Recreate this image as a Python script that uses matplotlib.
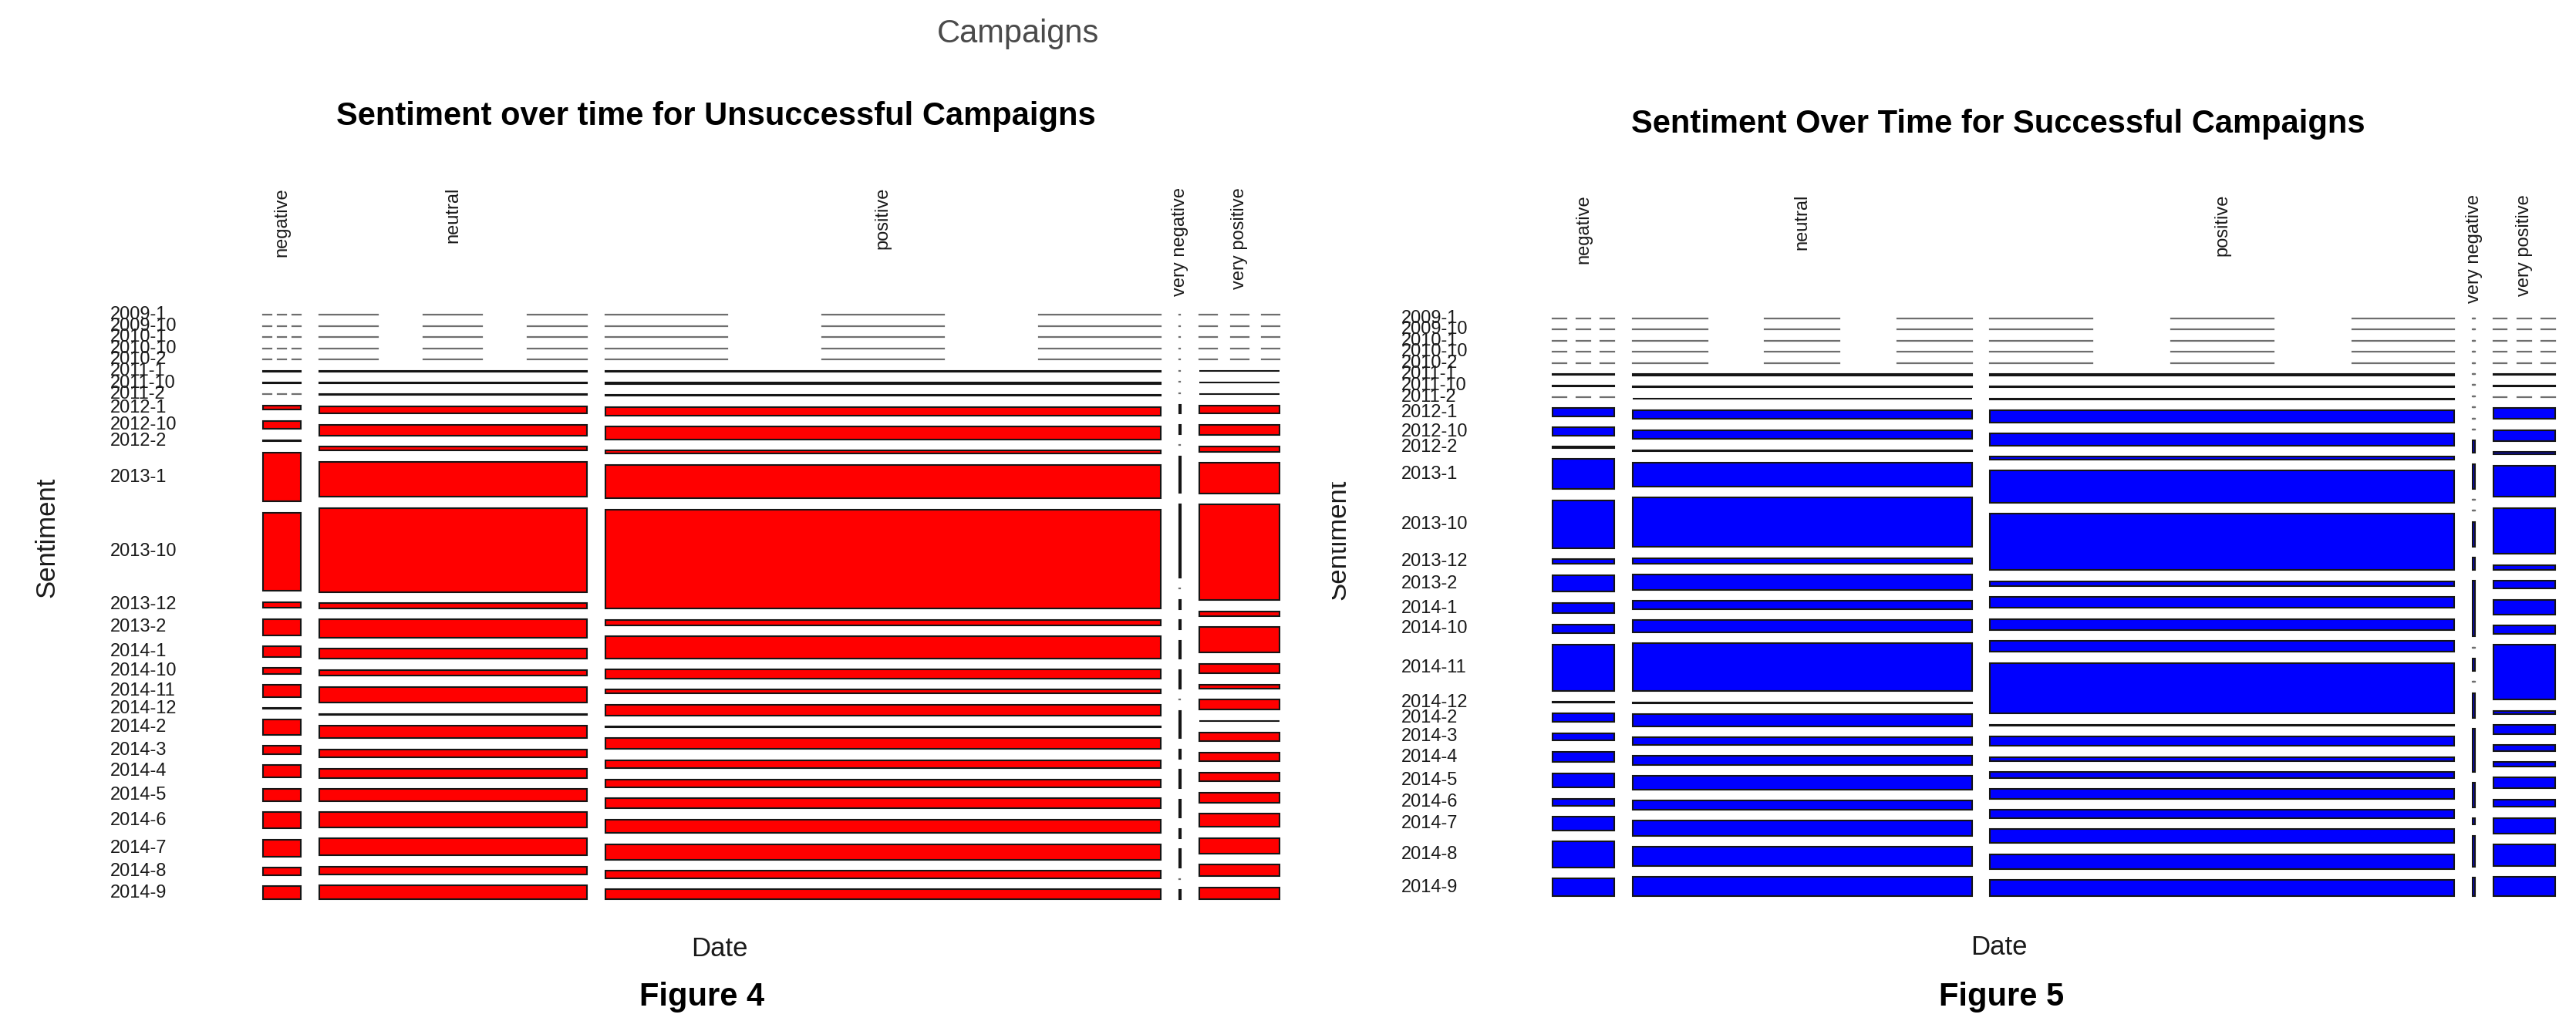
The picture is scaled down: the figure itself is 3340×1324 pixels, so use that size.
import numpy as np
import matplotlib
matplotlib.use("Agg")
import matplotlib.pyplot as plt
from matplotlib.patches import Rectangle
from matplotlib.collections import LineCollection
from matplotlib.transforms import blended_transform_factory, Bbox, TransformedBbox

plt.rcParams['font.family'] = ['Liberation Sans', 'DejaVu Sans']

# ---------------------------------------------------------------- data
dates = ["2009-1", "2009-10", "2010-1", "2010-10", "2010-2", "2011-1", "2011-10",
         "2011-2", "2012-1", "2012-10", "2012-2", "2013-1", "2013-10", "2013-12",
         "2013-2", "2014-1", "2014-10", "2014-11", "2014-12", "2014-2", "2014-3",
         "2014-4", "2014-5", "2014-6", "2014-7", "2014-8", "2014-9"]
sentiments = ["negative", "neutral", "positive", "very negative", "very positive"]

# tweet counts per date, one list per sentiment -- unsuccessful campaigns
unsucc_negative = [0, 0, 0, 0, 0, 2, 1, 0, 11, 22, 3, 134, 214, 16, 44,
                   29, 15, 33, 1, 41, 22, 34, 33, 44, 47, 20, 35]
unsucc_neutral = [0, 0, 0, 0, 0, 10, 10, 10, 144, 206, 72, 684, 1627, 100, 349,
                  196, 105, 311, 10, 239, 158, 177, 230, 292, 330, 148, 263]
unsucc_positive = [0, 0, 0, 0, 0, 21, 52, 21, 346, 504, 136, 1344, 3989, 220, 892,
                   346, 157, 430, 21, 430, 325, 304, 399, 556, 609, 294, 399]
unsucc_very_negative = [0, 0, 0, 0, 0, 0, 0, 0, 1, 1, 0, 4, 8, 0, 1,
                        1, 2, 2, 0, 3, 1, 2, 2, 1, 2, 0, 1]
unsucc_very_positive = [0, 0, 0, 0, 0, 2, 2, 2, 47, 59, 31, 176, 556, 26, 147,
                        57, 21, 57, 2, 52, 50, 52, 59, 76, 88, 66, 69]

# tweet counts per date, one list per sentiment -- successful campaigns
succ_negative = [0, 0, 0, 0, 0, 2, 2, 0, 38, 37, 6, 138, 220, 21, 78,
                 48, 40, 214, 2, 39, 34, 49, 65, 32, 63, 120, 80]
succ_neutral = [0, 0, 0, 0, 0, 30, 24, 12, 231, 225, 30, 608, 1246, 134, 389,
                201, 304, 1216, 18, 304, 182, 237, 340, 219, 389, 474, 486]
succ_positive = [0, 0, 0, 0, 0, 41, 41, 27, 411, 411, 110, 1110, 1946, 164, 370,
                 370, 384, 1754, 27, 315, 137, 206, 343, 274, 480, 521, 548]
succ_very_negative = [0, 0, 0, 0, 0, 0, 0, 0, 0, 0, 0, 2, 4, 0, 0,
                      4, 2, 9, 0, 2, 0, 4, 7, 4, 1, 5, 3]
succ_very_positive = [0, 0, 0, 0, 0, 2, 2, 0, 50, 50, 11, 144, 212, 21, 36,
                      68, 39, 252, 14, 43, 25, 21, 50, 34, 71, 98, 89]

# ---------------------------------------------------------------- figure
W, H = 3340, 1324
fig = plt.figure(figsize=(W / 100, H / 100), dpi=100)
TXT = "#1a1a1a"


def fx(x):
    return x / W


def fy(y):
    return 1 - y / H


def pixel_axes(x0, y0, x1, y1):
    return fig.add_axes([fx(x0), fy(y1), (x1 - x0) / W, (y1 - y0) / H])


def mosaic(ax, table, color, label_x, label_top, offx=0.073, offy=0.5):
    table = np.asarray(table, dtype=float)
    ncol, nrow = table.shape
    col_tot = table.sum(axis=1)
    px = col_tot / col_tot.sum()
    gapx = offx / (ncol - 1)
    gapy = offy / (nrow - 1)
    ax.set_xlim(0, 1)
    ax.set_ylim(1, 0)
    ax.set_axis_off()

    zero_segs = []
    x = 0.0
    col_centers = []
    first_centers = None
    for c in range(ncol):
        w = (1 - offx) * px[c]
        q = table[c] / col_tot[c]
        y = 0.0
        centers = []
        for r in range(nrow):
            h = (1 - offy) * q[r]
            if table[c, r] > 0:
                ax.add_patch(Rectangle((x, y), w, h, facecolor=color,
                                       edgecolor="#151515", linewidth=1.5,
                                       clip_on=False, zorder=2))
            else:
                # empty cell: short dashed rule
                for k in range(3):
                    s = x + w * 0.39 * k
                    zero_segs.append([(s, y), (s + 0.22 * w, y)])
            centers.append(y + h / 2)
            y += h + gapy
        if first_centers is None:
            first_centers = centers
        col_centers.append(x + w / 2)
        x += w + gapx

    ax.add_collection(LineCollection(zero_segs, colors="#6e6e6e", linewidths=1.6,
                                     capstyle="projecting", clip_on=False, zorder=1))

    # date labels beside the first column
    tr = blended_transform_factory(fig.transFigure, ax.transData)
    for lab, yc in zip(dates, first_centers):
        ax.text(fx(label_x), yc, lab, transform=tr, ha="left", va="center",
                fontsize=17, color=TXT, clip_on=False)

    # sentiment labels along the top
    tr2 = blended_transform_factory(ax.transData, fig.transFigure)
    for lab, xc in zip(sentiments, col_centers):
        ax.text(xc, fy(label_top), lab, transform=tr2, rotation=90,
                ha="center", va="top", fontsize=17, color=TXT, clip_on=False)


unsucc = [unsucc_negative, unsucc_neutral, unsucc_positive,
          unsucc_very_negative, unsucc_very_positive]
succ = [succ_negative, succ_neutral, succ_positive,
        succ_very_negative, succ_very_positive]

ax_left = pixel_axes(341, 408, 1659, 1166)
mosaic(ax_left, unsucc, "#ff0000", label_x=143, label_top=243)

ax_right = pixel_axes(2013, 413, 3313, 1162)
mosaic(ax_right, succ, "#0000ff", label_x=1817, label_top=252)

# ---------------------------------------------------------------- text
fig.text(fx(1320), fy(55), "Campaigns", ha="center", va="baseline",
         fontsize=30, color="#4a4a4a")

fig.text(fx(928), fy(162), "Sentiment over time for Unsuccessful Campaigns",
         ha="center", va="baseline", fontsize=30, fontweight="bold", color="black")
fig.text(fx(2591), fy(172), "Sentiment Over Time for Successful Campaigns",
         ha="center", va="baseline", fontsize=30, fontweight="bold", color="black")

fig.text(fx(61), fy(697), "Sentiment", rotation=90, ha="center", va="center",
         fontsize=25, color=TXT)
clipped = fig.text(fx(1735), fy(700), "Sentiment", rotation=90, ha="center",
                   va="center", fontsize=25, color=TXT)
clipped.set_clip_box(TransformedBbox(Bbox.from_extents(fx(1727), 0, 1, 1),
                                     fig.transFigure))
clipped.set_clip_on(True)

fig.text(fx(933), fy(1231), "Date", ha="center", va="center", fontsize=25, color=TXT)
fig.text(fx(2592), fy(1229), "Date", ha="center", va="center", fontsize=25, color=TXT)

fig.text(fx(910), fy(1293), "Figure 4", ha="center", va="center",
         fontsize=30, fontweight="bold", color="black")
fig.text(fx(2595), fy(1293), "Figure 5", ha="center", va="center",
         fontsize=30, fontweight="bold", color="black")

fig.savefig("out.png", dpi=100, facecolor="white")
